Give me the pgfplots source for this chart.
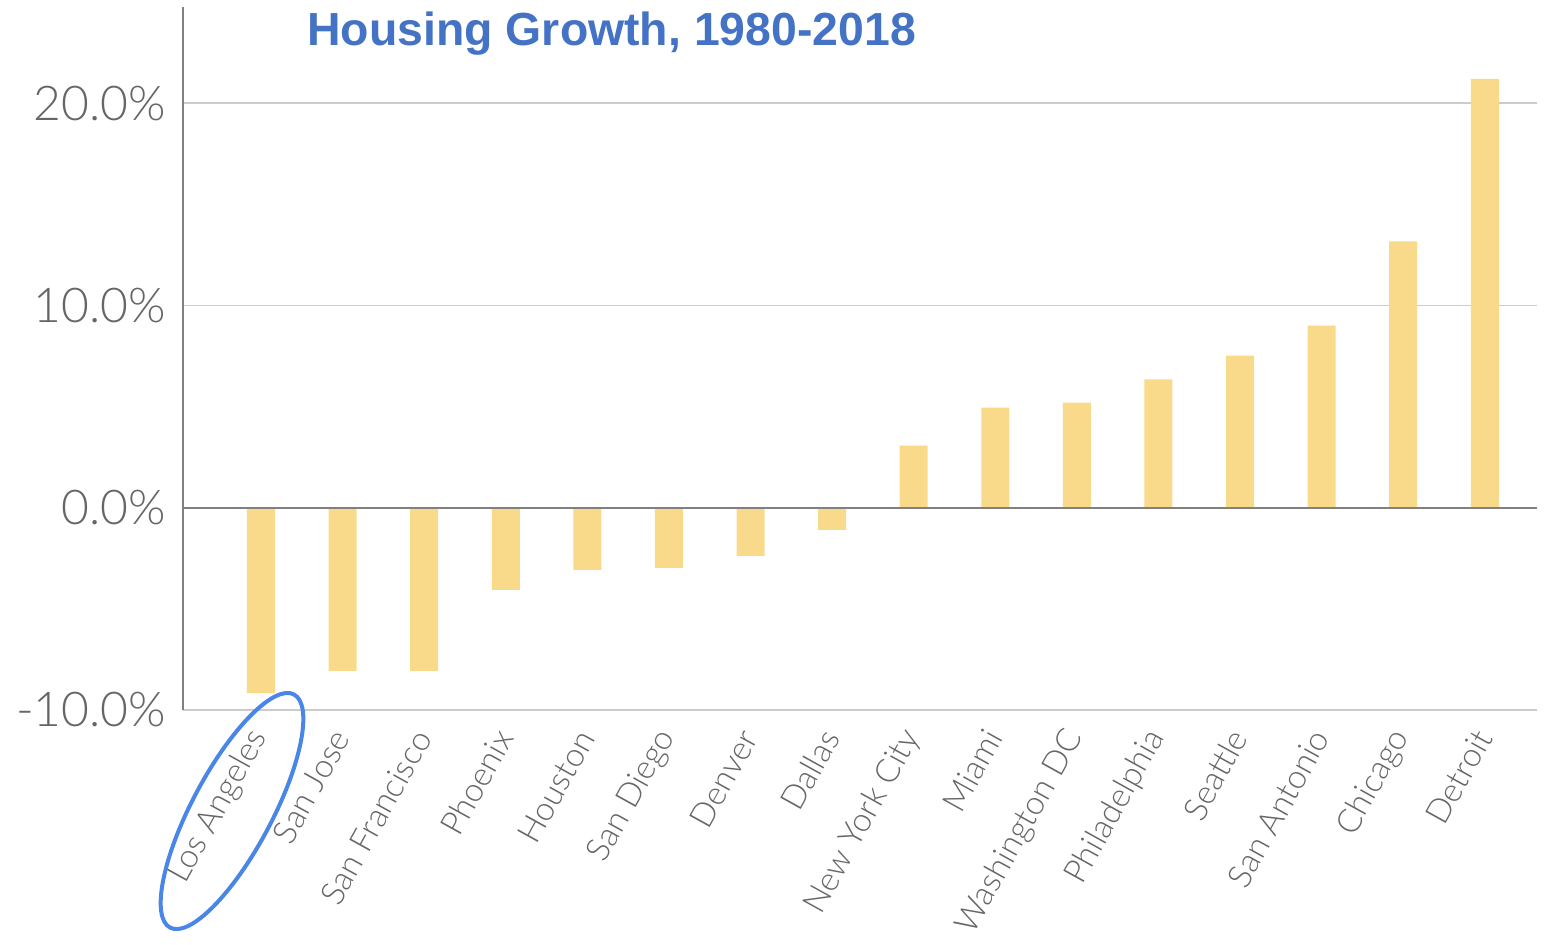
\documentclass[border=0pt]{standalone}
\usepackage{fontspec}
\setmainfont{Lato Light}
\newfontfamily\titlefont{Liberation Sans}
\usepackage{pgfplots}
\pgfplotsset{compat=1.18}

\definecolor{barcol}{HTML}{F9DA8A}
\definecolor{gridcol}{HTML}{CCCCCC}
\definecolor{axiscol}{HTML}{808080}
\definecolor{labcol}{HTML}{666666}
\definecolor{titlecol}{HTML}{4472C4}
\definecolor{ringcol}{HTML}{4A86E8}

\begin{document}
\begin{tikzpicture}[x=1pt,y=1pt]
\useasboundingbox (0,0) rectangle (772.5,-472);
\begin{axis}[
    at={(91.5pt,-355pt)}, anchor=south west,
    scale only axis, width=677pt, height=351.5pt,
    xmin=-0.956, xmax=15.64, ymin=-10, ymax=24.75,
    ybar, bar width=14pt,
    axis x line*=bottom, axis y line*=left,
    x axis line style={gridcol, line width=1pt, -},
    y axis line style={axiscol, line width=1.2pt, -},
    ytick={-10,0,10,20}, yticklabels={-10.0\%,0.0\%,10.0\%,20.0\%},
    ymajorgrids, grid style={gridcol, line width=0.8pt},
    major tick length=0pt,
    xtick={0,...,15},
    xticklabels={Los Angeles,San Jose,San Francisco,Phoenix,Houston,San Diego,Denver,Dallas,New York City,Miami,Washington DC,Philadelphia,Seattle,San Antonio,Chicago,Detroit},
    xticklabel style={rotate=61, anchor=east, font=\fontsize{16.5}{16.5}\selectfont, text=labcol, xshift=2pt},
    xticklabel shift=10pt,
    yticklabel style={font=\fontsize{24}{24}\selectfont, text=labcol},
    yticklabel shift=5pt,
    clip=false,
]
\addplot[fill=barcol, draw=none] coordinates {
  (0,-9.16)(1,-8.07)(2,-8.07)(3,-4.06)(4,-3.07)(5,-2.97)(6,-2.38)(7,-1.09)
  (8,3.07)(9,4.95)(10,5.2)(11,6.34)(12,7.52)(13,9.0)(14,13.17)(15,21.2)};
\draw[axiscol, line width=1.2pt] (axis cs:-0.956,0) -- (axis cs:15.64,0);
\end{axis}
\draw[ringcol, line width=2pt, rotate around={62:(116,-405.5)}] (116,-405.5) ellipse (66 and 20);
\node[anchor=base west, font=\titlefont\bfseries\fontsize{23.2}{23.2}\selectfont, text=titlecol, inner sep=0pt] at (153.5,-22.5) {Housing Growth, 1980-2018};
\end{tikzpicture}
\end{document}
